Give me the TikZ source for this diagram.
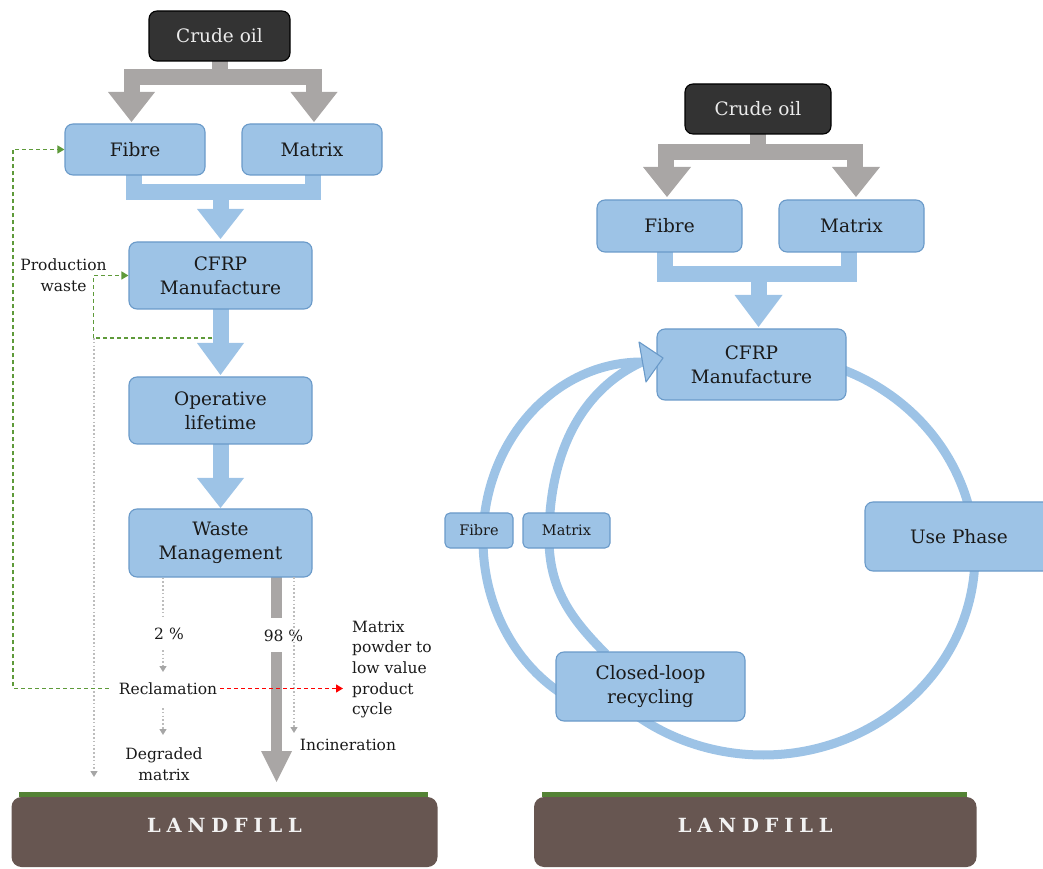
\documentclass[tikz,border=0pt]{standalone}
\usepackage{fontspec}
\setmainfont{DejaVu Serif}
\usetikzlibrary{calc,arrows.meta}

\definecolor{boxblue}{HTML}{9DC3E6}
\definecolor{boxline}{HTML}{6A9AC9}
\definecolor{flowgray}{HTML}{A9A6A5}
\definecolor{oilfill}{HTML}{333333}
\definecolor{soil}{HTML}{675651}
\definecolor{grass}{HTML}{548235}
\definecolor{dotgray}{HTML}{BDBDBD}
\definecolor{tipgray}{HTML}{A6A6A6}
\definecolor{wastegreen}{HTML}{5E9A3A}
\definecolor{inkgray}{HTML}{1A1A1A}

% filled triangular head of a broad flow arrow: colour, base centre, half width, length
\newcommand\fathead[4]{\fill[#1] ($(#2)+(-#3,0)$) -- ($(#2)+(#3,0)$) -- ($(#2)+(0,-#4)$) -- cycle;}
\newcommand\lfword{L\hspace{5.8pt}A\hspace{5.8pt}N\hspace{5.8pt}D\hspace{5.8pt}F\hspace{5.8pt}I\hspace{5.8pt}L\hspace{5.8pt}L}

\tikzset{
  stage/.style={rectangle, rounded corners=8pt, draw=boxline, line width=1.1pt,
    fill=boxblue, align=center, text=inkgray, inner sep=0pt,
    font=\fontsize{18.5}{24}\selectfont},
  smallstage/.style={stage, rounded corners=5pt, font=\fontsize{14.5}{17}\selectfont},
  oilbox/.style={rectangle, rounded corners=8pt, draw=black, line width=1.1pt,
    fill=oilfill, text=white!92!black, inner sep=0pt,
    font=\fontsize{18.5}{24}\selectfont},
  note/.style={align=center, text=inkgray, inner sep=0pt,
    font=\fontsize{15.5}{21}\selectfont},
  soilbox/.style={rectangle, rounded corners=10pt, fill=soil, inner sep=0pt},
  soiltext/.style={text=white!95!black, inner sep=0pt,
    font=\fontsize{19.5}{22}\selectfont\bfseries},
  bflow/.style={draw=boxblue, line width=16pt, line join=miter},
  gflow/.style={draw=flowgray, line width=16pt, line join=miter},
  ring/.style={draw=boxblue, line width=9pt},
  dotline/.style={draw=dotgray, line width=1.4pt, dash pattern=on 1.6pt off 2.2pt},
  dottip/.style={-{Triangle[width=7pt,length=6pt,color=tipgray]}},
  greenline/.style={draw=wastegreen, line width=1.3pt, dash pattern=on 4pt off 3pt,
    -{Triangle[width=8pt,length=7pt]}},
  redline/.style={draw=red, line width=1.3pt, dash pattern=on 4pt off 3pt,
    -{Triangle[width=8pt,length=7pt]}}
}

\begin{document}
\begin{tikzpicture}[x=1pt,y=1pt]
\useasboundingbox (0,0) rectangle (1043,868);
\clip (0,0) rectangle (1043,868);

% ---------------- closed loop (right) ----------------
\draw[ring] (799.8,510) arc[start angle=80,end angle=-130,x radius=212,y radius=200];
\draw[ring] (642,506) arc[start angle=90,end angle=240,x radius=159,y radius=178];
\draw[ring] (642,506) .. controls (585,480) and (549,420) .. (549,330)
                      .. controls (549,280) and (570,250) .. (606,214);

% ---------------- broad flows (left) ----------------
\draw[gflow] (219.5,807) -- (219.5,783);
\draw[gflow] (131.5,776) -- (131.5,791) -- (314,791) -- (314,776);
\fathead{flowgray}{131.5,776}{23.5}{30}
\fathead{flowgray}{314,776}{23.5}{30}

\draw[bflow] (134,693) -- (134,676) -- (313,676) -- (313,693);
\draw[bflow] (220.5,676) -- (220.5,659);
\fathead{boxblue}{220.5,659}{23.5}{30}
\draw[bflow] (220.5,559) -- (220.5,525);
\fathead{boxblue}{220.5,525}{23.5}{32}
\draw[bflow] (220.5,424) -- (220.5,390);
\fathead{boxblue}{220.5,390}{23.5}{30}

\draw[flowgray, line width=11pt] (276.5,291) -- (276.5,250);
\draw[flowgray, line width=11pt] (276.5,216) -- (276.5,117);
\fathead{flowgray}{276.5,117}{15.5}{31}

% ---------------- broad flows (right) ----------------
\draw[gflow] (758,734) -- (758,709);
\draw[gflow] (666,701) -- (666,716) -- (855,716) -- (855,701);
\fathead{flowgray}{667,701}{24}{30}
\fathead{flowgray}{856,701}{24}{30}

\draw[bflow] (665,616) -- (665,593.5) -- (849,593.5) -- (849,616);
\draw[bflow] (758.5,593.5) -- (758.5,573);
\fathead{boxblue}{758.5,573}{24}{32}

% ---------------- process boxes (left) ----------------
\node[oilbox, minimum width=141pt, minimum height=50pt] (oilL) at (219.5,832) {Crude oil};
\node[stage, minimum width=140pt, minimum height=51pt] (fibL) at (135,718.5) {Fibre};
\node[stage, minimum width=140pt, minimum height=51pt] (matL) at (312,718.5) {Matrix};
\node[stage, minimum width=183pt, minimum height=67pt] (cfrpL) at (220.5,592.5) {CFRP\\Manufacture};
\node[stage, minimum width=183pt, minimum height=67pt] (opL) at (220.5,457.5) {Operative\\lifetime};
\node[stage, minimum width=183pt, minimum height=68pt] (wasteL) at (220.5,325) {Waste\\Management};

% ---------------- process boxes (right) ----------------
\node[oilbox, minimum width=146pt, minimum height=50pt] (oilR) at (758,759) {Crude oil};
\node[stage, minimum width=145pt, minimum height=52pt] (fibR) at (669.5,642) {Fibre};
\node[stage, minimum width=145pt, minimum height=52pt] (matR) at (851.5,642) {Matrix};
\node[stage, minimum width=189pt, minimum height=71pt] (cfrpR) at (751.5,503.5) {CFRP\\Manufacture};
\node[stage, minimum width=188pt, minimum height=69pt] (useR) at (959,331.5) {Use Phase};
\node[smallstage, minimum width=68pt, minimum height=35pt] (fibS) at (479,337.5) {Fibre};
\node[smallstage, minimum width=87pt, minimum height=35pt] (matS) at (566.5,337.5) {Matrix};
\node[stage, minimum width=189pt, minimum height=69pt] (closed) at (650.5,181.5) {Closed-loop\\recycling};

% arrowhead of the recycling loop
\filldraw[fill=boxblue, draw=boxline, line width=1.1pt, line join=round]
  (639,526) -- (663,510) -- (646,486) -- cycle;

% ---------------- end-of-life notes ----------------
\node[note] (pct2) at (169,234) {2 \%};
\node[note] (pct98) at (283.5,232.5) {98 \%};
\node[note] (recl) at (168,179.5) {Reclamation};
\node[note, anchor=north] (degr) at (164,120.5) {Degraded\\matrix};
\node[note] (incin) at (348,123.5) {Incineration};
\node[note, anchor=north west, align=left, font=\fontsize{15.5}{20.7}\selectfont] (mpow)
  at (352,247.5) {Matrix\\powder to\\low value\\product\\cycle};
\node[note, anchor=north] (pwaste) at (63.5,609.5) {Production\\waste};

\coordinate (d1) at (163,250);
\coordinate (d2) at (163,218);
\coordinate (d3) at (163,196);
\coordinate (d4) at (163,160);
\coordinate (d5) at (163,133);
\draw[dotline] (wasteL.south -| d1) -- (d1);
\draw[dotline, dottip] (d2) -- (d3);
\draw[dotline, dottip] (d4) -- (d5);

\coordinate (inc1) at (294,291);
\coordinate (inc2) at (294,135);
\draw[dotline, dottip] (inc1) -- (inc2);

\coordinate (pw1) at (94,530);
\coordinate (pw2) at (94,91);
\draw[dotline, dottip] (pw1) -- (pw2);

\draw[greenline] ($(recl.west)+(-10,0)$) -| ($(fibL.west)+(-51.5,0)$) -- (fibL.west);
\coordinate (g2) at (212,530);
\draw[greenline] (g2) -| ($(cfrpL.west)+(-35,0)$) -- (cfrpL.west);

\draw[redline] ($(recl.east)+(3,0)$) -- ($(recl.east -| mpow.west)+(-9,0)$);

% ---------------- landfills ----------------
\fill[grass] (18.5,71) rectangle (428,76);
\node[soilbox, minimum width=426pt, minimum height=70pt] (lfL) at (224.5,36) {};
\node[soiltext] at ($(lfL.center)+(0,7)$) {\lfword};

\fill[grass] (542,71) rectangle (967,76);
\node[soilbox, minimum width=442.5pt, minimum height=70pt] (lfR) at (755.25,36) {};
\node[soiltext] at ($(lfR.center)+(0,7)$) {\lfword};
\end{tikzpicture}
\end{document}
